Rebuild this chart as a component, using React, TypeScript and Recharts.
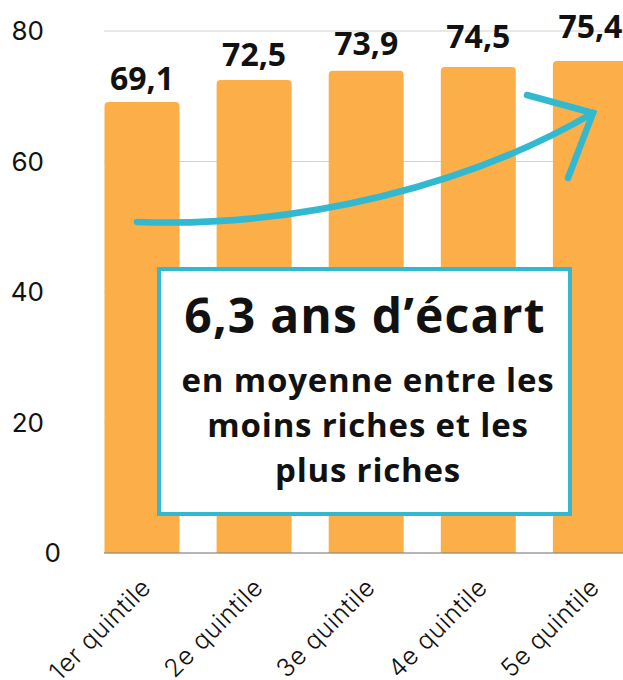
import React from "react";
import { BarChart, Bar, XAxis, YAxis, CartesianGrid, LabelList } from "recharts";

const categories = ["1er quintile", "2e quintile", "3e quintile", "4e quintile", "5e quintile"];
const esperance = [69.1, 72.5, 73.9, 74.5, 75.4];
const yTicks = [0, 20, 40, 60, 80];
const annotationTitle = "6,3 ans d’écart";
const annotationLines = ["en moyenne entre les", "moins riches et les", "plus riches"];

const data = categories.map((c, i) => ({ name: c, value: esperance[i] }));

const ORANGE = "#FCAF48";
const TEAL = "#33B9CF";
const LABEL_GAP = [12.5, 14, 16, 19, 23];

const fmt = (v: number) => v.toFixed(1).replace(".", ",");

const ValueLabel = (props: any) => {
  const { x, y, width, value, index } = props;
  return (
    <text
      x={x + width / 2}
      y={y - LABEL_GAP[index]}
      textAnchor="middle"
      fontFamily="'Open Sans', sans-serif"
      fontWeight={700}
      fontSize={32}
      fill="#111"
    >
      {fmt(value)}
    </text>
  );
};

const XTick = (props: any) => {
  const { x, y, payload } = props;
  const ax = x + 11;
  const ay = y + 36;
  return (
    <text
      x={ax}
      y={ay}
      textAnchor="end"
      transform={`rotate(-45, ${ax}, ${ay})`}
      fontFamily="Inter, sans-serif"
      fontWeight={300}
      fontSize={25}
      letterSpacing={0.6}
      fill="#111"
    >
      {payload.value}
    </text>
  );
};

const YTick = (props: any) => {
  const { y, payload } = props;
  const isZero = payload.value === 0;
  return (
    <text
      x={isZero ? 61 : 44}
      y={y}
      dy={9}
      textAnchor="end"
      fontFamily="Inter, sans-serif"
      fontSize={26}
      fill="#111"
    >
      {payload.value}
    </text>
  );
};

export default function App() {
  return (
    <div
      style={{
        position: "absolute",
        left: 0,
        top: 0,
        width: 623,
        height: 680,
        overflow: "hidden",
        background: "#fff",
      }}
    >
      <BarChart
        width={646}
        height={680}
        data={data}
        margin={{ top: 31, right: 0, bottom: 0, left: 0 }}
      >
        <CartesianGrid vertical={false} stroke="#d2d2d2" />
        <XAxis
          dataKey="name"
          height={127}
          padding={{ left: -18.5, right: 0 }}
          tickLine={false}
          tickSize={0}
          tickMargin={0}
          axisLine={{ stroke: "#808080" }}
          tick={<XTick />}
          interval={0}
        />
        <YAxis
          width={104}
          domain={[0, 80]}
          ticks={yTicks}
          axisLine={false}
          tickLine={false}
          tick={<YTick />}
        />
        <Bar
          dataKey="value"
          fill={ORANGE}
          barSize={75}
          radius={[4, 4, 0, 0]}
          isAnimationActive={false}
        >
          <LabelList dataKey="value" content={<ValueLabel />} />
        </Bar>
      </BarChart>
      <svg
        width={623}
        height={680}
        style={{ position: "absolute", left: 0, top: 0, pointerEvents: "none" }}
      >
        <path
          d="M137,222 C300,228 470,185 593,113"
          fill="none"
          stroke={TEAL}
          strokeWidth={6.5}
          strokeLinecap="round"
        />
        <path
          d="M527,95 L593,113 L568,178"
          fill="none"
          stroke={TEAL}
          strokeWidth={6.5}
          strokeLinecap="round"
          strokeLinejoin="miter"
        />
        <rect x={159} y={269} width={411} height={245} fill="#fff" stroke={TEAL} strokeWidth={4} />
        <text
          x={365}
          y={333}
          textAnchor="middle"
          fontFamily="'Open Sans', sans-serif"
          fontWeight={700}
          fontSize={48}
          letterSpacing={1.2}
          fill="#111"
        >
          {annotationTitle}
        </text>
        {annotationLines.map((t, i) => (
          <text
            key={t}
            x={368}
            y={392 + i * 45}
            textAnchor="middle"
            fontFamily="'Open Sans', sans-serif"
            fontWeight={700}
            fontSize={33}
            letterSpacing={0.8}
            fill="#111"
          >
            {t}
          </text>
        ))}
      </svg>
    </div>
  );
}
